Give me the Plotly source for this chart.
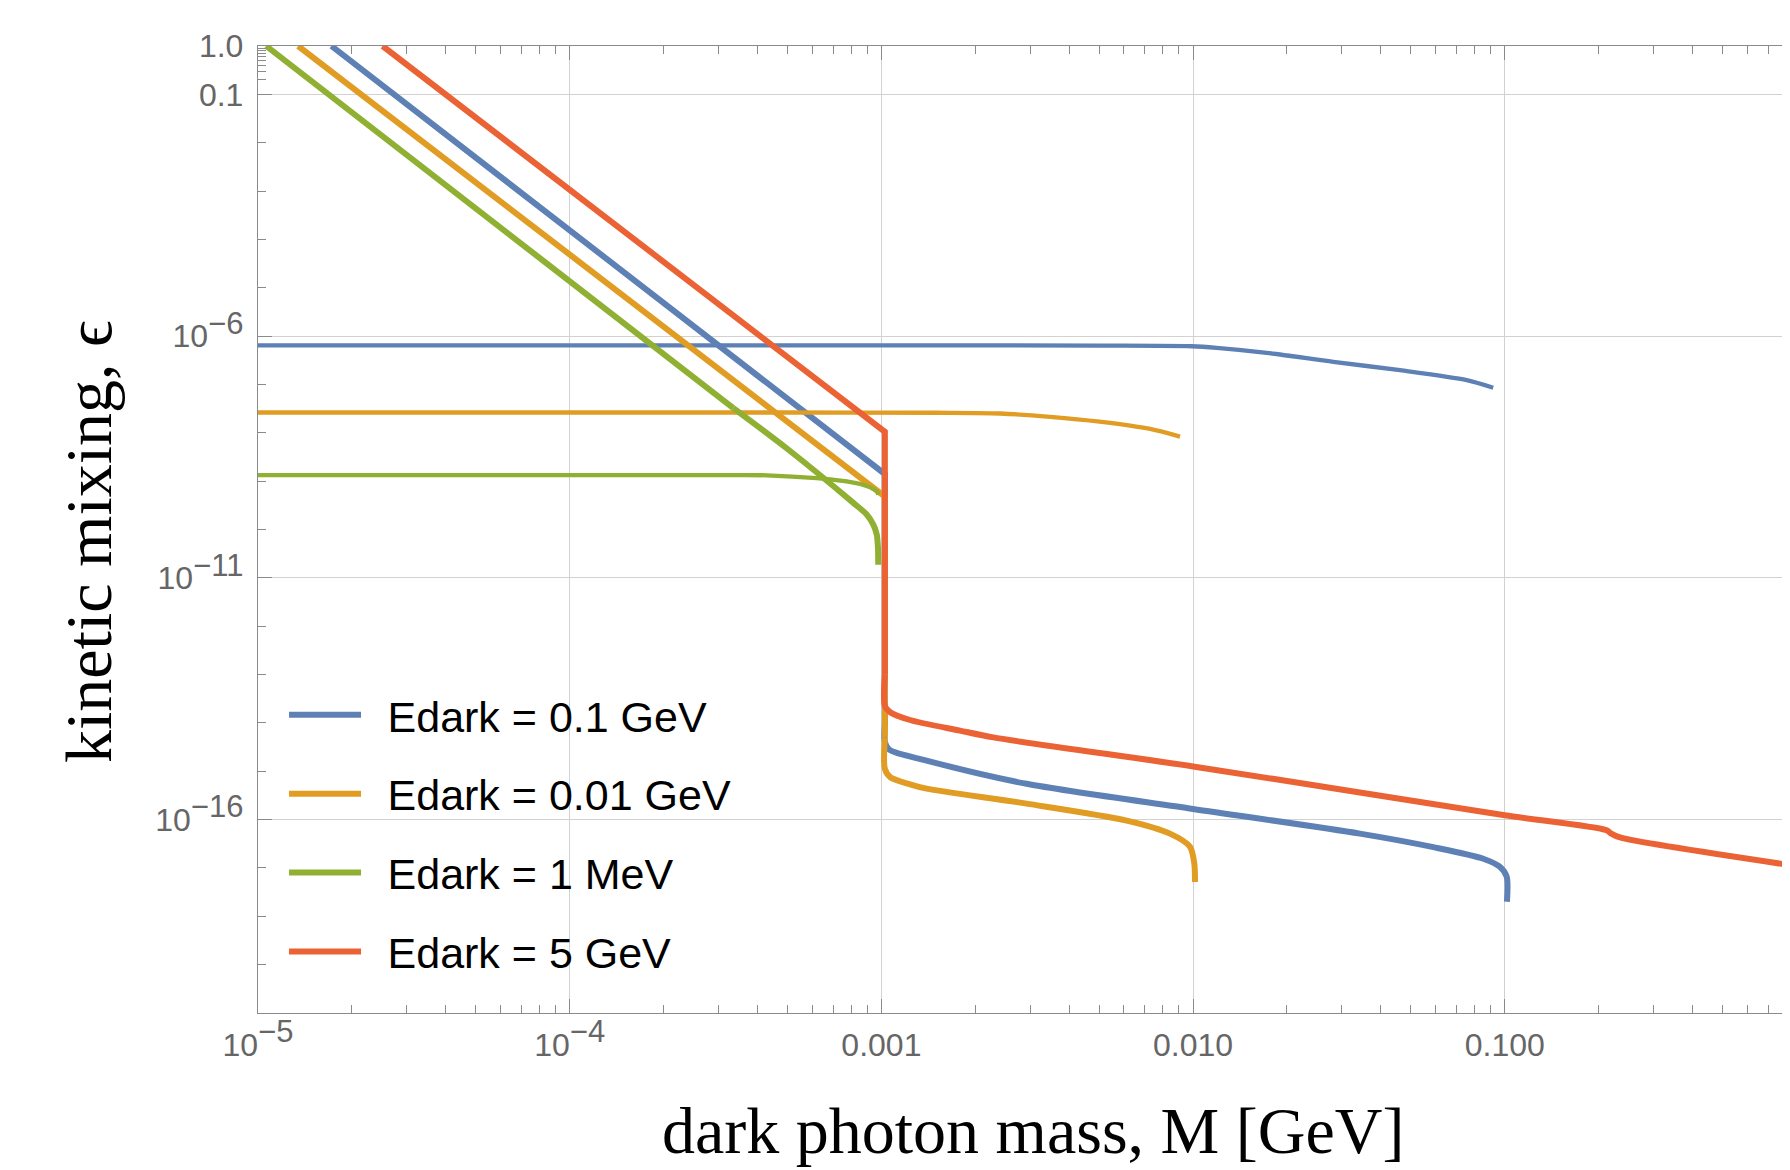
import plotly.graph_objects as go

# ---------------- data ----------------
series_names = ["Edark = 0.1 GeV", "Edark = 0.01 GeV", "Edark = 1 MeV", "Edark = 5 GeV"]
series_colors = ["#5E81B5", "#E19C24", "#8FB032", "#EB6235"]

# Edark = 0.1 GeV
blue_diag_M = [1.72e-5, 1.0e-3, 1.026e-3, 1.026e-3]
blue_diag_eps = [1.0, 1.585e-9, 1.4e-9, 1.0e-14]
blue_lower_M = [1.026e-3, 1.026e-3, 1.06e-3, 1.396e-3, 2.924e-3, 1.0e-2,
                3.428e-2, 5.90e-2, 8.53e-2, 9.66e-2, 1.014e-1, 1.016e-1]
blue_lower_eps = [1.0e-14, 4.0e-15, 2.8e-15, 1.66e-15, 5.50e-16, 1.66e-16,
                  5.13e-17, 2.69e-17, 1.55e-17, 1.047e-17, 6.61e-18, 2.0e-18]
blue_upper_M = [1.0e-5, 1.0e-4, 1.0e-3, 5.0e-3, 9.89e-3, 1.191e-2, 1.722e-2, 2.818e-2,
                4.61e-2, 7.55e-2, 9.18e-2]
blue_upper_eps = [6.46e-7, 6.46e-7, 6.45e-7, 6.36e-7, 6.17e-7, 5.71e-7, 4.50e-7, 2.93e-7,
                  1.97e-7, 1.23e-7, 8.55e-8]

# Edark = 0.01 GeV
orange_diag_M = [1.345e-5, 1.0e-3, 1.026e-3, 1.026e-3]
orange_diag_eps = [1.0, 5.25e-10, 4.8e-10, 5.0e-15]
orange_lower_M = [1.026e-3, 1.026e-3, 1.067e-3, 1.236e-3, 1.396e-3, 2.924e-3,
                  6.12e-3, 8.43e-3, 9.77e-3, 1.009e-2, 1.014e-2]
orange_lower_eps = [5.0e-15, 1.12e-15, 7.59e-16, 5.37e-16, 4.37e-16, 2.14e-16,
                    9.55e-17, 5.13e-17, 2.75e-17, 1.23e-17, 5.13e-18]
orange_upper_M = [1.0e-5, 1.0e-4, 5.0e-4, 1.5e-3, 2.40e-3, 3.48e-3, 5.01e-3, 7.28e-3, 9.08e-3]
orange_upper_eps = [2.63e-8, 2.63e-8, 2.63e-8, 2.60e-8, 2.51e-8, 2.14e-8, 1.70e-8, 1.20e-8, 8.32e-9]

# Edark = 1 MeV
green_diag_M = [1.062e-5, 3.35e-4]
green_diag_eps = [1.0, 3.24e-8]
green_lower_M = [3.35e-4, 5.01e-4, 8.13e-4, 8.97e-4, 9.42e-4, 9.66e-4, 9.75e-4, 9.77e-4]
green_lower_eps = [3.24e-8, 4.57e-9, 3.55e-10, 2.04e-10, 1.26e-10, 7.94e-11, 4.17e-11, 1.86e-11]
green_upper_M = [1.0e-5, 1.0e-4, 3.0e-4, 4.29e-4, 6.19e-4, 8.13e-4, 8.97e-4, 9.66e-4, 9.77e-4]
green_upper_eps = [1.33e-9, 1.33e-9, 1.33e-9, 1.32e-9, 1.15e-9, 9.33e-10, 7.94e-10, 6.17e-10, 5.25e-10]

# Edark = 5 GeV
red_diag_M = [2.51e-5, 1.026e-3, 1.026e-3]
red_diag_eps = [1.0, 1.047e-8, 1.0e-13]
red_lower_M = [1.026e-3, 1.026e-3, 1.067e-3, 1.236e-3, 1.786e-3, 2.286e-3, 1.0e-2,
               3.428e-2, 1.0e-1, 2.123e-1, 2.188e-1, 2.344e-1, 8.5e-1]
red_lower_eps = [1.0e-13, 2.24e-14, 1.66e-14, 1.148e-14, 6.92e-15, 5.01e-15, 1.259e-15,
                 3.63e-16, 1.23e-16, 6.03e-17, 5.2e-17, 4.27e-17, 1.11e-17]
red_upper_M = []
red_upper_eps = []

x_tick_vals = [1e-5, 1e-4, 1e-3, 1e-2, 1e-1]
y_tick_vals = [1.0, 0.1, 1e-6, 1e-11, 1e-16]
SUP = "<sup><span style='font-size:31px'>{}</span></sup>"
x_tick_text = ["10" + SUP.format("−5"), "10" + SUP.format("−4"), "0.001", "0.010", "0.100"]
y_tick_text = ["1.0", "0.1", "10" + SUP.format("−6"), "10" + SUP.format("−11"), "10" + SUP.format("−16")]

x_title = "dark photon mass, M [GeV]"
y_title = "kinetic mixing, ϵ"

# ---------------- figure ----------------
diags = [(blue_diag_M, blue_diag_eps), (orange_diag_M, orange_diag_eps),
         (green_diag_M, green_diag_eps), (red_diag_M, red_diag_eps)]
lowers = [(blue_lower_M, blue_lower_eps), (orange_lower_M, orange_lower_eps),
          (green_lower_M, green_lower_eps), (red_lower_M, red_lower_eps)]
uppers = [(blue_upper_M, blue_upper_eps), (orange_upper_M, orange_upper_eps),
          (green_upper_M, green_upper_eps), (red_upper_M, red_upper_eps)]

THICK = 6.0
THIN = 4.3

fig = go.Figure()
for name, color, (dx, dy), (lx, ly), (ux, uy) in zip(series_names, series_colors, diags, lowers, uppers):
    label = "\u2002" + name
    fig.add_trace(go.Scatter(x=dx, y=dy, mode="lines", name=label, legendgroup=name,
                             line=dict(color=color, width=THICK), showlegend=True))
    fig.add_trace(go.Scatter(x=lx, y=ly, mode="lines", name=label, legendgroup=name,
                             line=dict(color=color, width=THICK, shape="spline", smoothing=0.8),
                             showlegend=False))
    if ux:
        fig.add_trace(go.Scatter(x=ux, y=uy, mode="lines", name=label, legendgroup=name,
                                 line=dict(color=color, width=THIN, shape="spline", smoothing=0.8),
                                 showlegend=False))

axis_color = "#8a8a8a"
grid_color = "#d2d2d2"
tick_font = dict(family="Liberation Sans", size=32, color="#666666")
title_font = dict(family="Liberation Serif", size=66, color="black")

x_minor = [m * 10.0 ** d for d in range(-5, 0) for m in range(2, 10)] + [m * 0.1 for m in range(2, 9)]
y_minor = [10.0 ** k for k in range(-19, 0) if k not in (-16, -11, -6, -1)] + [m * 0.1 for m in range(2, 10)]

fig.update_layout(
    width=1782, height=1162,
    margin=dict(l=250, r=0, t=38, b=157),
    paper_bgcolor="white", plot_bgcolor="white",
    legend=dict(x=0.017, y=0.344, xanchor="left", yanchor="top",
                bgcolor="rgba(0,0,0,0)", traceorder="grouped", tracegroupgap=20,
                itemwidth=72,
                font=dict(family="Liberation Sans", size=43, color="black")),
    xaxis=dict(type="log", range=[-5, -0.085],
               tickmode="array", tickvals=x_tick_vals, ticktext=x_tick_text,
               ticks="inside", ticklen=14, tickwidth=1.2, tickcolor=axis_color,
               showline=True, linecolor=axis_color, linewidth=1.4, mirror="ticks",
               showgrid=True, gridcolor=grid_color, gridwidth=1.2, zeroline=False,
               tickfont=tick_font, ticklabelstandoff=3,
               minor=dict(tickmode="array", tickvals=x_minor, ticks="inside", ticklen=8,
                          tickwidth=1.2, tickcolor=axis_color, showgrid=False)),
    yaxis=dict(type="log", range=[-20, 0],
               tickmode="array", tickvals=y_tick_vals, ticktext=y_tick_text,
               ticks="inside", ticklen=14, tickwidth=1.2, tickcolor=axis_color,
               showline=True, linecolor=axis_color, linewidth=1.4, mirror=False,
               showgrid=True, gridcolor=grid_color, gridwidth=1.2, zeroline=False,
               tickfont=tick_font, ticklabelstandoff=7,
               minor=dict(tickmode="array", tickvals=y_minor, ticks="inside", ticklen=8,
                          tickwidth=1.2, tickcolor=axis_color, showgrid=False)),
    annotations=[
        dict(text=x_title, xref="paper", yref="paper", x=0.506, y=-0.1215,
             xanchor="center", yanchor="middle", showarrow=False, font=title_font),
        dict(text=y_title, xref="paper", yref="paper", x=-0.111, y=0.488,
             xanchor="center", yanchor="middle", showarrow=False, textangle=-90,
             font=title_font),
    ],
)

fig.write_html("out.html")
